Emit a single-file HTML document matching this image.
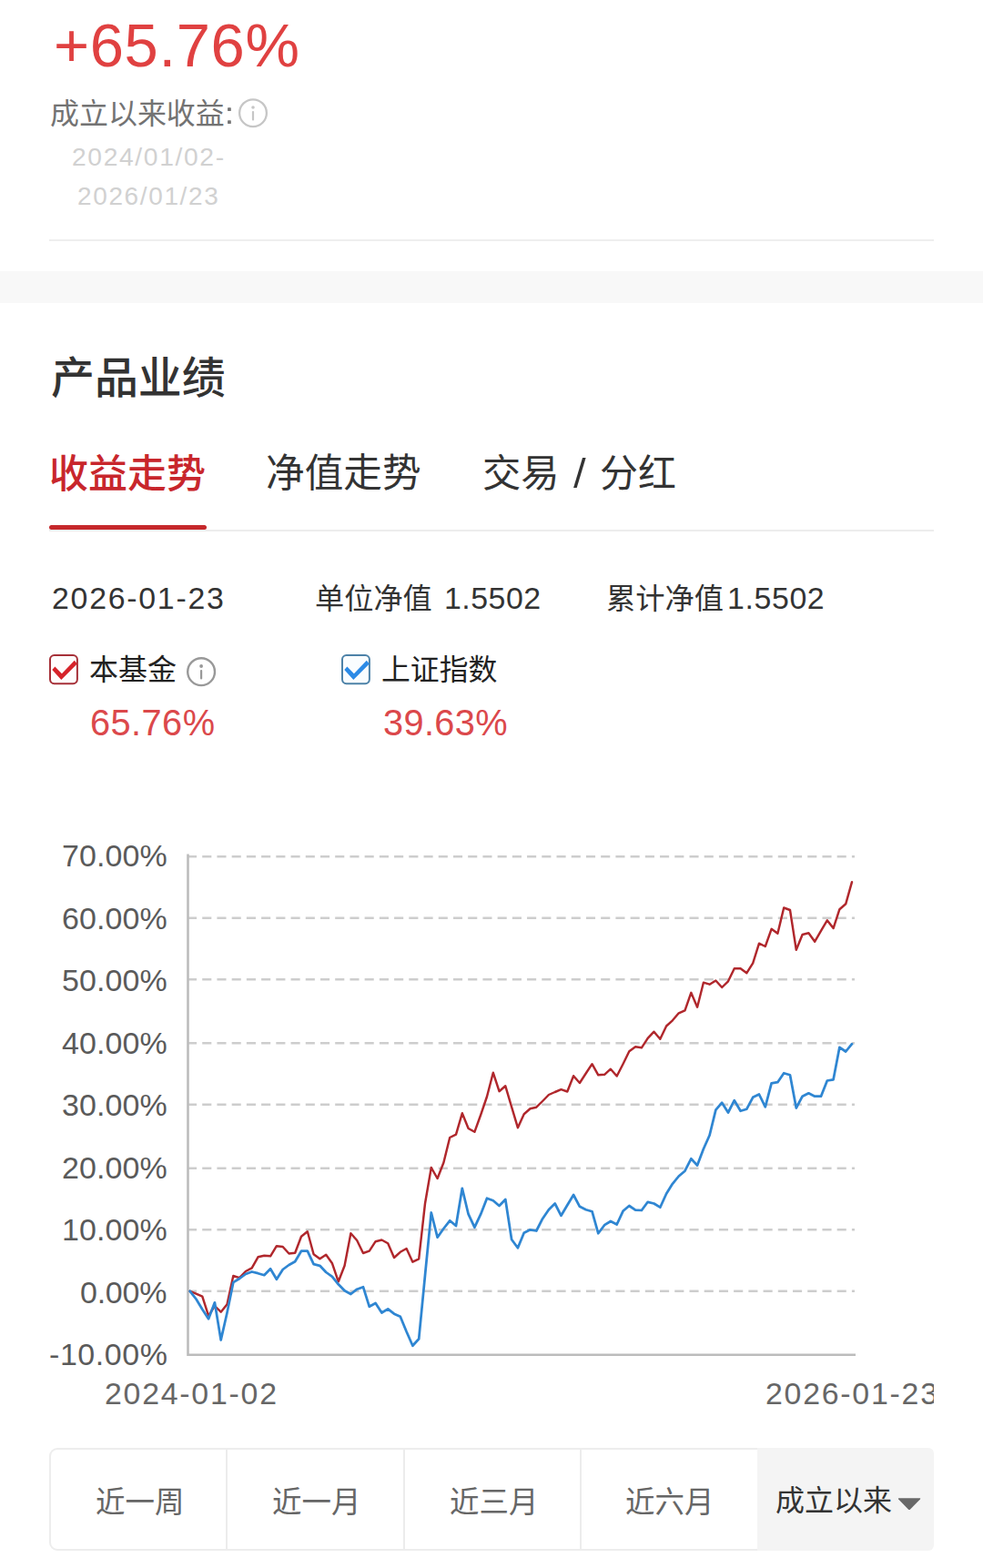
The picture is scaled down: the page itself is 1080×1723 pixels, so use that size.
<!DOCTYPE html>
<html lang="zh-CN">
<head>
<meta charset="utf-8">
<title>产品业绩</title>
<style>
html,body{margin:0;padding:0;background:#fff;}
body{width:1080px;height:1723px;position:relative;overflow:hidden;font-family:"Liberation Sans","Noto Sans CJK SC",sans-serif;}
.t{position:absolute;display:block;overflow:visible;}
.abs{position:absolute;}
svg text{font-family:"Liberation Sans","Noto Sans CJK SC",sans-serif;}
</style>
</head>
<body>
<svg class="t" role="img" aria-label="+65.76%" style="left:55.90px;top:20.90px;" width="276.00" height="64.00" viewBox="-3 0 276.00 64.00"><text x="0" y="51.929" font-size="66.93" fill="#e04141" textLength="270" lengthAdjust="spacing">+65.76%</text></svg>
<svg class="t" role="img" aria-label="成立以来收益" style="left:55.15px;top:107.27px" width="191.86" height="35.17" viewBox="0 0 191.86 35.17"><text x="0" y="29.418" font-size="31.98" fill="#737373">成立以来收益</text></svg>
<svg class="t" style="left:248px;top:114px" width="8" height="26" viewBox="248 114 8 26" role="img" aria-label=":"><title>:</title><rect x="250.1" y="118.2" width="3.7" height="3.8" rx=".6" fill="#737373"/><rect x="250.1" y="132.2" width="3.7" height="3.8" rx=".6" fill="#737373"/></svg>
<svg class="t" style="left:260px;top:106px" width="36" height="36" viewBox="0 0 36 36" role="img" aria-label="info"><circle cx="18" cy="18.2" r="14.9" fill="none" stroke="#c6c6c6" stroke-width="2.3"/><circle cx="18" cy="12" r="1.8" fill="#c6c6c6"/><rect x="16.9" y="16.1" width="2.2" height="10.4" rx="1" fill="#c6c6c6"/></svg>
<svg class="t" role="img" aria-label="2024/01/02-" style="left:75.80px;top:158.40px;" width="173.10" height="35.10" viewBox="-3 0 173.10 35.10"><text x="0" y="23.648" font-size="28.25" fill="#d1d1d1" textLength="167.1" lengthAdjust="spacing">2024/01/02-</text></svg>
<svg class="t" role="img" aria-label="2026/01/23" style="left:82.00px;top:201.50px;" width="160.80" height="34.90" viewBox="-3 0 160.80 34.90"><text x="0" y="23.452" font-size="27.98" fill="#d1d1d1" textLength="154.8" lengthAdjust="spacing">2026/01/23</text></svg>
<div class="abs" style="left:54px;top:263.1px;width:972px;height:2px;background:#eeeeee"></div>
<div class="abs" style="left:0;top:297.5px;width:1080px;height:35.8px;background:#f8f8f8"></div>
<svg class="t" role="img" aria-label="产品业绩" style="left:55.76px;top:388.34px" width="191.78" height="52.74" viewBox="0 0 191.78 52.74"><text x="0" y="44.109" font-size="47.94" font-weight="500" fill="#333333">产品业绩</text></svg>
<svg class="t" role="img" aria-label="收益走势" style="left:54.29px;top:495.89px" width="172.13" height="47.34" viewBox="0 0 172.13 47.34"><text x="0" y="39.590" font-size="43.03" font-weight="500" fill="#c8262c">收益走势</text></svg>
<svg class="t" role="img" aria-label="净值走势" style="left:291.95px;top:496.09px" width="170.67" height="46.93" viewBox="0 0 170.67 46.93"><text x="0" y="39.254" font-size="42.67" fill="#333333">净值走势</text></svg>
<svg class="t" role="img" aria-label="交易" style="left:529.61px;top:496.36px" width="84.71" height="46.59" viewBox="0 0 84.71 46.59"><text x="0" y="38.967" font-size="42.36" fill="#333333">交易</text></svg>
<svg class="t" style="left:626px;top:500px" width="22" height="40" viewBox="626 500 22 40" role="img" aria-label="/"><title>/</title><polygon points="640,503.1 643.6,503.1 633.7,536 630.1,536" fill="#333"/></svg>
<svg class="t" role="img" aria-label="分红" style="left:659.15px;top:496.42px" width="83.95" height="46.17" viewBox="0 0 83.95 46.17"><text x="0" y="38.618" font-size="41.98" fill="#333333">分红</text></svg>
<div class="abs" style="left:54px;top:582px;width:972px;height:1.9px;background:#ededed"></div>
<div class="abs" style="left:54px;top:576.7px;width:172.8px;height:5.3px;border-radius:2.7px;background:#c5282b"></div>
<svg class="t" role="img" aria-label="2026-01-23" style="left:53.80px;top:640.90px;" width="194.80" height="39.30" viewBox="-3 0 194.80 39.30"><text x="0" y="27.758" font-size="33.87" fill="#333" textLength="188.8" lengthAdjust="spacing">2026-01-23</text></svg>
<svg class="t" role="img" aria-label="单位净值" style="left:346.03px;top:638.70px" width="128.86" height="35.44" viewBox="0 0 128.86 35.44"><text x="0" y="29.637" font-size="32.21" fill="#333333">单位净值</text></svg>
<svg class="t" role="img" aria-label="1.5502" style="left:484.50px;top:641.00px;" width="112.20" height="39.30" viewBox="-3 0 112.20 39.30"><text x="0" y="27.758" font-size="33.87" fill="#333" textLength="106.2" lengthAdjust="spacing">1.5502</text></svg>
<svg class="t" role="img" aria-label="累计净值" style="left:666.29px;top:638.59px" width="129.10" height="35.50" viewBox="0 0 129.10 35.50"><text x="0" y="29.693" font-size="32.27" fill="#333333">累计净值</text></svg>
<svg class="t" role="img" aria-label="1.5502" style="left:795.50px;top:641.00px;" width="112.70" height="39.30" viewBox="-3 0 112.70 39.30"><text x="0" y="27.758" font-size="33.87" fill="#333" textLength="106.7" lengthAdjust="spacing">1.5502</text></svg>
<svg class="t" style="left:53px;top:716px" width="40" height="40" viewBox="0 0 40 40" role="img" aria-label="checked"><rect x="2" y="4" width="29.9" height="31.2" rx="4.6" fill="#fffdfd" stroke="#a63038" stroke-width="2"/><polygon points="7.4,16.4 4.3,20.1 14.3,30.9 31.8,13.4 28.8,9.8 14.9,24.2" fill="#d6232a"/></svg>
<svg class="t" role="img" aria-label="本基金" style="left:97.72px;top:718.32px" width="95.98" height="35.19" viewBox="0 0 95.98 35.19"><text x="0" y="29.434" font-size="31.99" fill="#222222">本基金</text></svg>
<svg class="t" style="left:203px;top:720px" width="36" height="36" viewBox="0 0 36 36" role="img" aria-label="info"><circle cx="18.1" cy="18.2" r="14.9" fill="none" stroke="#999999" stroke-width="2.4"/><circle cx="18.1" cy="12" r="1.9" fill="#999999"/><rect x="17" y="16.1" width="2.2" height="10.5" rx="1" fill="#999999"/></svg>
<svg class="t" style="left:374.1px;top:716px" width="40" height="40" viewBox="0 0 40 40" role="img" aria-label="checked"><rect x="2" y="4" width="29.9" height="31.2" rx="4.6" fill="#fafdff" stroke="#4d82a8" stroke-width="2"/><polygon points="7.4,16.4 4.3,20.1 14.3,30.9 31.8,13.4 28.8,9.8 14.9,24.2" fill="#2b8ae6"/></svg>
<svg class="t" role="img" aria-label="上证指数" style="left:418.98px;top:718.23px" width="127.31" height="35.01" viewBox="0 0 127.31 35.01"><text x="0" y="29.282" font-size="31.83" fill="#222222">上证指数</text></svg>
<svg class="t" role="img" aria-label="65.76%" style="left:96.30px;top:775.90px;" width="143.00" height="43.70" viewBox="-3 0 143.00 43.70"><text x="0" y="32.064" font-size="39.76" fill="#db484b" textLength="137" lengthAdjust="spacing">65.76%</text></svg>
<svg class="t" role="img" aria-label="39.63%" style="left:417.70px;top:775.90px;" width="142.70" height="43.70" viewBox="-3 0 142.70 43.70"><text x="0" y="32.064" font-size="39.76" fill="#db484b" textLength="136.7" lengthAdjust="spacing">39.63%</text></svg>
<svg class="t" style="left:0;top:900px" width="1080" height="620" viewBox="0 900 1080 620" role="img" aria-label="收益走势图">
<line x1="206" y1="941.25" x2="939" y2="941.25" stroke="#cdcdcd" stroke-width="2.3" stroke-dasharray="10.1 6.12"/>
<line x1="206" y1="1008.75" x2="939" y2="1008.75" stroke="#cdcdcd" stroke-width="2.3" stroke-dasharray="10.1 6.12"/>
<line x1="206" y1="1076.25" x2="939" y2="1076.25" stroke="#cdcdcd" stroke-width="2.3" stroke-dasharray="10.1 6.12"/>
<line x1="206" y1="1146.25" x2="939" y2="1146.25" stroke="#cdcdcd" stroke-width="2.3" stroke-dasharray="10.1 6.12"/>
<line x1="206" y1="1213.75" x2="939" y2="1213.75" stroke="#cdcdcd" stroke-width="2.3" stroke-dasharray="10.1 6.12"/>
<line x1="206" y1="1283.75" x2="939" y2="1283.75" stroke="#cdcdcd" stroke-width="2.3" stroke-dasharray="10.1 6.12"/>
<line x1="206" y1="1351.25" x2="939" y2="1351.25" stroke="#cdcdcd" stroke-width="2.3" stroke-dasharray="10.1 6.12"/>
<line x1="206" y1="1418.75" x2="939" y2="1418.75" stroke="#cdcdcd" stroke-width="2.3" stroke-dasharray="10.1 6.12"/>
<path d="M206.5 938.5 V1488.75 H940" fill="none" stroke="#bcbcbc" stroke-width="2.6"/>
<polyline points="208.7,1418.8 215.5,1421.7 222.3,1424.7 229.1,1445.8 235.9,1435.0 242.7,1441.7 249.5,1433.3 256.3,1402.0 263.1,1404.2 269.9,1397.0 276.7,1393.3 283.5,1381.3 290.3,1379.7 297.1,1380.3 303.9,1369.2 310.7,1370.0 317.5,1377.5 324.2,1376.7 331.0,1358.7 337.8,1353.3 344.6,1378.3 351.4,1383.3 358.2,1378.7 365.0,1388.3 371.8,1408.3 378.6,1390.8 385.4,1355.3 392.2,1363.0 399.0,1377.0 405.8,1374.7 412.6,1364.2 419.4,1362.5 426.2,1366.3 433.0,1382.0 439.8,1375.8 446.6,1372.0 453.4,1386.7 460.2,1383.3 467.0,1322.5 473.8,1283.0 480.6,1295.0 487.4,1277.5 494.2,1250.0 501.0,1246.7 507.8,1223.3 514.6,1240.0 521.4,1243.8 528.2,1225.0 535.0,1205.0 541.8,1178.7 548.5,1199.2 555.3,1193.3 562.1,1216.3 568.9,1239.2 575.7,1224.2 582.5,1218.3 589.3,1216.7 596.1,1210.0 602.9,1203.0 609.7,1200.0 616.5,1197.2 623.3,1199.5 630.1,1182.2 636.9,1190.0 643.7,1179.5 650.5,1169.2 657.3,1181.3 664.1,1180.8 670.9,1174.7 677.7,1182.5 684.5,1169.2 691.3,1155.3 698.1,1150.3 704.9,1151.3 711.7,1140.8 718.5,1133.7 725.3,1141.7 732.1,1127.5 738.9,1121.3 745.7,1113.3 752.5,1110.3 759.3,1090.8 766.1,1106.7 772.9,1079.7 779.6,1081.7 786.4,1077.5 793.2,1085.0 800.0,1078.3 806.8,1064.2 813.6,1064.2 820.4,1069.2 827.2,1058.3 834.0,1036.7 840.8,1040.0 847.6,1020.8 854.4,1025.8 861.2,997.5 868.0,1000.0 874.8,1043.7 881.6,1027.0 888.4,1025.3 895.2,1034.7 902.0,1022.8 908.8,1011.3 915.6,1020.0 922.4,999.2 929.2,993.3 936.0,969.2" fill="none" stroke="#b0272c" stroke-width="2.45" stroke-linejoin="round" stroke-linecap="round"/>
<polyline points="208.7,1418.8 215.5,1427.5 222.3,1438.7 229.1,1449.2 235.9,1431.3 242.7,1472.5 249.5,1442.5 256.3,1409.2 263.1,1405.0 269.9,1400.0 276.7,1397.5 283.5,1399.2 290.3,1401.2 297.1,1394.2 303.9,1405.8 310.7,1395.0 317.5,1390.0 324.2,1386.3 331.0,1374.7 337.8,1374.7 344.6,1389.2 351.4,1390.8 358.2,1398.0 365.0,1402.8 371.8,1411.3 378.6,1418.3 385.4,1422.0 392.2,1416.7 399.0,1414.2 405.8,1435.8 412.6,1432.0 419.4,1442.5 426.2,1438.3 433.0,1443.7 439.8,1446.7 446.6,1463.3 453.4,1478.7 460.2,1471.3 467.0,1401.5 473.8,1332.5 480.6,1359.7 487.4,1350.0 494.2,1341.3 501.0,1347.0 507.8,1305.8 514.6,1334.2 521.4,1348.7 528.2,1334.2 535.0,1316.7 541.8,1319.2 548.5,1325.0 555.3,1318.0 562.1,1362.0 568.9,1371.3 575.7,1354.7 582.5,1351.3 589.3,1352.5 596.1,1339.2 602.9,1329.2 609.7,1322.5 616.5,1335.8 623.3,1324.2 630.1,1313.0 636.9,1325.8 643.7,1329.2 650.5,1331.2 657.3,1355.3 664.1,1346.2 670.9,1342.0 677.7,1345.5 684.5,1330.8 691.3,1325.0 698.1,1329.7 704.9,1330.0 711.7,1320.8 718.5,1322.5 725.3,1326.7 732.1,1311.7 738.9,1300.8 745.7,1292.5 752.5,1286.7 759.3,1273.3 766.1,1280.5 772.9,1262.5 779.6,1247.5 786.4,1219.7 793.2,1211.7 800.0,1222.5 806.8,1209.2 813.6,1220.8 820.4,1218.7 827.2,1205.8 834.0,1202.5 840.8,1216.3 847.6,1190.3 854.4,1189.2 861.2,1179.2 868.0,1181.2 874.8,1217.5 881.6,1204.7 888.4,1201.3 895.2,1204.7 902.0,1204.7 908.8,1187.5 915.6,1186.3 922.4,1150.8 929.2,1155.5 936.0,1147.2" fill="none" stroke="#2f86d2" stroke-width="2.75" stroke-linejoin="round" stroke-linecap="round"/>
</svg>
<svg class="t" role="img" aria-label="70.00%" style="left:64.90px;top:924.30px;" width="121.80" height="39.40" viewBox="-3 0 121.80 39.40"><text x="0" y="27.856" font-size="34" fill="#5a5a5a" textLength="115.8" lengthAdjust="spacing">70.00%</text></svg>
<svg class="t" role="img" aria-label="60.00%" style="left:64.90px;top:992.77px;" width="121.80" height="39.40" viewBox="-3 0 121.80 39.40"><text x="0" y="27.856" font-size="34" fill="#5a5a5a" textLength="115.8" lengthAdjust="spacing">60.00%</text></svg>
<svg class="t" role="img" aria-label="50.00%" style="left:64.90px;top:1061.24px;" width="121.80" height="39.40" viewBox="-3 0 121.80 39.40"><text x="0" y="27.856" font-size="34" fill="#5a5a5a" textLength="115.8" lengthAdjust="spacing">50.00%</text></svg>
<svg class="t" role="img" aria-label="40.00%" style="left:64.90px;top:1129.71px;" width="121.80" height="39.40" viewBox="-3 0 121.80 39.40"><text x="0" y="27.856" font-size="34" fill="#5a5a5a" textLength="115.8" lengthAdjust="spacing">40.00%</text></svg>
<svg class="t" role="img" aria-label="30.00%" style="left:64.90px;top:1198.18px;" width="121.80" height="39.40" viewBox="-3 0 121.80 39.40"><text x="0" y="27.856" font-size="34" fill="#5a5a5a" textLength="115.8" lengthAdjust="spacing">30.00%</text></svg>
<svg class="t" role="img" aria-label="20.00%" style="left:64.90px;top:1266.65px;" width="121.80" height="39.40" viewBox="-3 0 121.80 39.40"><text x="0" y="27.856" font-size="34" fill="#5a5a5a" textLength="115.8" lengthAdjust="spacing">20.00%</text></svg>
<svg class="t" role="img" aria-label="10.00%" style="left:64.90px;top:1335.12px;" width="121.80" height="39.40" viewBox="-3 0 121.80 39.40"><text x="0" y="27.856" font-size="34" fill="#5a5a5a" textLength="115.8" lengthAdjust="spacing">10.00%</text></svg>
<svg class="t" role="img" aria-label="0.00%" style="left:85.30px;top:1403.59px;" width="101.40" height="39.40" viewBox="-3 0 101.40 39.40"><text x="0" y="27.856" font-size="34" fill="#5a5a5a" textLength="95.4" lengthAdjust="spacing">0.00%</text></svg>
<svg class="t" role="img" aria-label="-10.00%" style="left:50.70px;top:1472.06px;" width="136.00" height="39.40" viewBox="-3 0 136.00 39.40"><text x="0" y="27.856" font-size="34" fill="#5a5a5a" textLength="130" lengthAdjust="spacing">-10.00%</text></svg>
<svg class="t" role="img" aria-label="2024-01-02" style="left:111.70px;top:1514.90px;" width="195.00" height="39.30" viewBox="-3 0 195.00 39.30"><text x="0" y="27.758" font-size="33.87" fill="#666" textLength="189" lengthAdjust="spacing">2024-01-02</text></svg>
<div class="abs" style="left:830px;top:1505px;width:196px;height:50px;overflow:hidden"><svg class="t" role="img" aria-label="2026-01-23" style="left:7.50px;top:9.90px;" width="195.00" height="39.30" viewBox="-3 0 195.00 39.30"><text x="0" y="27.758" font-size="33.87" fill="#666" textLength="189" lengthAdjust="spacing">2026-01-23</text></svg></div>
<div class="abs" style="left:54px;top:1591.2px;width:968px;height:108.6px;border:2px solid #ededed;border-radius:9px;overflow:hidden;background:#fff"><div class="abs" style="left:192.2px;top:0;width:1.6px;height:109px;background:#ececec"></div><div class="abs" style="left:387.2px;top:0;width:1.6px;height:109px;background:#ececec"></div><div class="abs" style="left:581.2px;top:0;width:1.6px;height:109px;background:#ececec"></div></div>
<div class="abs" style="left:832.2px;top:1591.2px;width:193.8px;height:112.6px;background:#f4f4f4;border-radius:0 6px 6px 0"></div>
<svg class="t" role="img" aria-label="近一周" style="left:104.73px;top:1631.66px" width="97.47" height="35.74" viewBox="0 0 97.47 35.74"><text x="0" y="29.889" font-size="32.49" fill="#666666">近一周</text></svg>
<svg class="t" role="img" aria-label="近一月" style="left:298.73px;top:1631.74px" width="97.47" height="35.74" viewBox="0 0 97.47 35.74"><text x="0" y="29.889" font-size="32.49" fill="#666666">近一月</text></svg>
<svg class="t" role="img" aria-label="近三月" style="left:493.73px;top:1631.74px" width="97.47" height="35.74" viewBox="0 0 97.47 35.74"><text x="0" y="29.889" font-size="32.49" fill="#666666">近三月</text></svg>
<svg class="t" role="img" aria-label="近六月" style="left:687.03px;top:1631.74px" width="97.47" height="35.74" viewBox="0 0 97.47 35.74"><text x="0" y="29.889" font-size="32.49" fill="#666666">近六月</text></svg>
<svg class="t" role="img" aria-label="成立以来" style="left:852.15px;top:1631.49px" width="128.08" height="35.22" viewBox="0 0 128.08 35.22"><text x="0" y="29.458" font-size="32.02" fill="#333333">成立以来</text></svg>
<svg class="t" style="left:984px;top:1642px" width="30" height="22" viewBox="0 0 30 22" role="img" aria-label="展开"><path d="M3.8 4.2 H26.4 Q28 4.2 26.9 5.4 L16.1 16.5 Q15 17.6 13.9 16.5 L3.2 5.4 Q2.2 4.2 3.8 4.2 Z" fill="#686868"/></svg>
</body>
</html>
